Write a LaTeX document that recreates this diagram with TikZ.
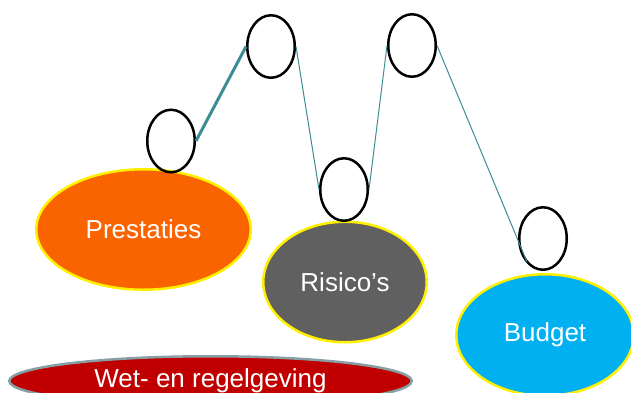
\documentclass[tikz,border=0pt]{standalone}
\usepackage{fontspec}
\setmainfont{Liberation Sans}
\usepackage{xcolor}
\usepackage{tikz}
\usetikzlibrary{shapes.geometric}
\usetikzlibrary{positioning}

\definecolor{oranje}{RGB}{250,100,0}
\definecolor{grijs}{RGB}{96,96,96}
\definecolor{blauw}{RGB}{0,176,240}
\definecolor{rood}{RGB}{192,0,0}
\definecolor{geel}{RGB}{255,240,0}
\definecolor{lijn}{RGB}{60,140,150}
\definecolor{randgrijs}{RGB}{135,160,165}

\tikzset{
	ring/.style={ellipse,draw=black,line width=2.5bp,minimum width=47.5bp,minimum height=62.5bp,inner sep=0pt},
	blok/.style={ellipse,draw=geel,line width=2.5bp,text=white,inner sep=0pt,font=\fontsize{26bp}{30bp}\selectfont},
	verbinding/.style={lijn,line width=1bp},
}

\begin{document}
\begin{tikzpicture}[x=1bp,y=-1bp]
	\useasboundingbox (0,0) rectangle (631,392);
	% grote ellipsen
	\node[blok,fill=oranje,minimum width=214.5bp,minimum height=120.5bp] (prestaties) at (143.5,229.5) {Prestaties};
	\node[blok,fill=grijs,minimum width=163.5bp,minimum height=120.5bp] (risicos) at (345,282) {Risico’s};
	\node[blok,fill=blauw,minimum width=177.5bp,minimum height=121.5bp] (budget) at (545,335) {Budget};
	\node[blok,draw=randgrijs,fill=rood,minimum width=402.5bp,minimum height=49.5bp] (wet) at (210.5,381) {Wet- en regelgeving};
	% ringen
	\node[ring] (ring1) at (171,141) {};
	\node[ring] (ring2) at (271,46.5) {};
	\node[ring] (ring3) at (344,189.5) {};
	\node[ring] (ring4) at (412,45.5) {};
	\node[ring] (ring5) at (543,238.5) {};
	\coordinate (eind) at (527,262);
	% verbindingen
	\draw[verbinding,line width=3bp] (ring1.east) -- (ring2.west);
	\draw[verbinding] (ring2.east) -- (ring3.west);
	\draw[verbinding] (ring3.east) -- (ring4.west);
	\draw[verbinding] (ring4.east) -- (eind);
\end{tikzpicture}
\end{document}
